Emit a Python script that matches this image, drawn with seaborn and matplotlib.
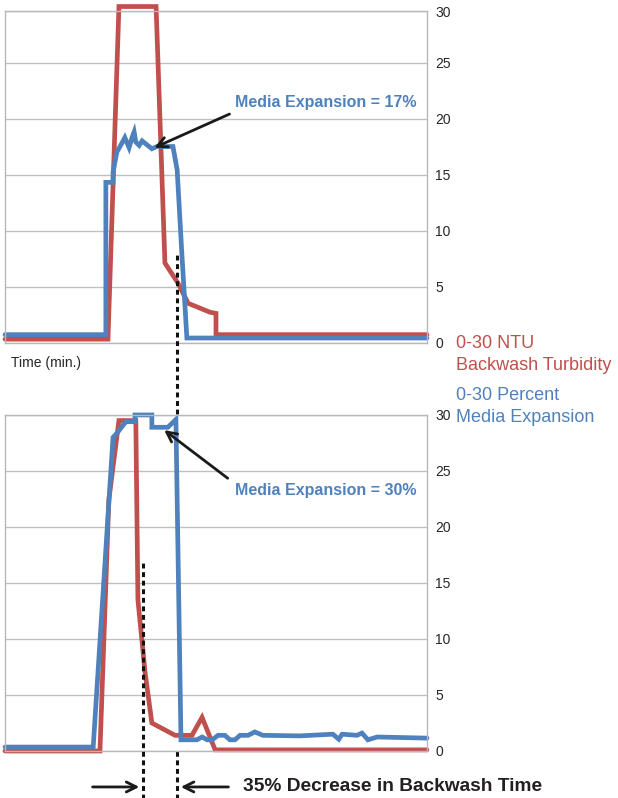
import matplotlib
matplotlib.use("Agg")
import matplotlib.pyplot as plt
import pandas as pd
import seaborn as sns

# top chart (shorter backwash)
top_time_ntu = [0, 24.4, 27.0, 35.8, 37.9, 41.0, 43.4, 48.6, 50.0, 50.0, 100]
top_ntu = [0.3, 0.3, 30.0, 30.0, 7.1, 5.3, 3.5, 2.7, 2.6, 0.7, 0.7]
top_time_exp = [0, 23.9, 23.9, 25.6, 25.6, 26.5, 27.7, 28.4, 29.4, 30.1, 30.6, 31.0,
                31.8, 32.5, 34.8, 36.0, 39.8, 40.8, 41.9, 43.1, 100]
top_exp = [0.7, 0.7, 14.3, 14.3, 15.2, 17.0, 17.8, 18.3, 17.4, 18.3, 18.8, 17.9,
           17.6, 18.0, 17.3, 17.5, 17.5, 15.4, 8.0, 0.4, 0.4]

# bottom chart
bot_time_ntu = [0, 22.5, 24.6, 27.0, 29.6, 31.0, 31.5, 33.2, 34.8, 40.3, 44.3,
                46.7, 49.8, 100]
bot_ntu = [0.0, 0.0, 22.4, 29.5, 29.5, 29.5, 13.5, 7.0, 2.5, 1.4, 1.4, 3.0, 0.1, 0.1]
bot_time_exp = [0, 20.9, 25.6, 26.8, 28.0, 28.7, 30.8, 30.8, 34.8, 34.8, 38.6, 40.5,
                41.7, 45.5, 46.7, 47.9, 49.1, 50.5, 52.1, 53.3, 54.5, 55.7, 57.6,
                59.2, 61.1, 69.9, 77.7, 79.1, 79.9, 83.4, 84.6, 86.0, 88.2, 100]
bot_exp = [0.35, 0.35, 28.0, 28.5, 29.1, 29.4, 29.4, 30.0, 30.0, 28.9, 28.9, 29.6,
           1.0, 1.0, 1.25, 1.0, 1.0, 1.4, 1.4, 1.0, 1.0, 1.4, 1.4,
           1.7, 1.4, 1.35, 1.5, 1.05, 1.5, 1.4, 1.6, 1.0, 1.25, 1.15]

ytick_vals = [0, 5, 10, 15, 20, 25, 30]
RED = "#C0504D"
BLUE = "#4F81BD"

sns.set_theme(style="white")
plt.rcParams["font.family"] = ["Liberation Sans", "DejaVu Sans"]

fig = plt.figure(figsize=(6.18, 7.98), dpi=100)
ax1 = fig.add_axes([0.0081, 0.5708, 0.6828, 0.4154])
ax2 = fig.add_axes([0.0081, 0.0589, 0.6828, 0.4211])


def draw(ax, t_ntu, ntu, t_exp, exp, ytop):
    d1 = pd.DataFrame({"t": t_ntu, "v": ntu})
    d2 = pd.DataFrame({"t": t_exp, "v": exp})
    sns.lineplot(data=d1, x="t", y="v", sort=False, estimator=None, color=RED, lw=3.4, ax=ax)
    sns.lineplot(data=d2, x="t", y="v", sort=False, estimator=None, color=BLUE, lw=3.4, ax=ax)
    for ln in ax.lines:
        ln.set_clip_on(False)
        ln.set_solid_joinstyle("miter")
    ax.set_xlim(0, 100)
    ax.set_ylim(0, ytop)
    ticks = [v if v <= ytop else ytop for v in ytick_vals]
    ax.set_yticks(ticks)
    ax.set_yticklabels([str(v) for v in ytick_vals])
    ax.set_xticks([])
    ax.set_xlabel("")
    ax.set_ylabel("")
    ax.yaxis.tick_right()
    ax.tick_params(axis="y", length=0, pad=6, labelsize=10, labelcolor="#262626")
    ax.grid(axis="y", color="#c0c0c0", lw=1)
    ax.set_axisbelow(True)
    for s in ax.spines.values():
        s.set_color("#b8b8b8")
        s.set_linewidth(1)


draw(ax1, top_time_ntu, top_ntu, top_time_exp, top_exp, 29.6)
draw(ax2, bot_time_ntu, bot_ntu, bot_time_exp, bot_exp, 30)

arrow = dict(arrowstyle="->", color="#1a1a1a", lw=2, mutation_scale=18)

# annotations
ax1.annotate("", xy=(34.8, 17.3), xytext=(53.8, 20.5), arrowprops=arrow)
ax1.text(54.5, 21.4, "Media Expansion = 17%", color=BLUE, fontsize=11.5,
         fontweight="bold", ha="left", va="center")
ax2.annotate("", xy=(37.2, 28.8), xytext=(53.3, 24.2), arrowprops=arrow)
ax2.text(54.5, 23.3, "Media Expansion = 30%", color=BLUE, fontsize=11.5,
         fontweight="bold", ha="left", va="center")

ax1.text(0.014, -0.062, "Time (min.)", transform=ax1.transAxes, fontsize=10,
         color="#262626", ha="left", va="center")

# dashed guide lines
dash = (0, (1.6, 1.2))
ax1.axvline(40.8, ymin=-1.38, ymax=8.0 / 29.6, color="#111111", lw=2.2,
            ls=dash, clip_on=False, zorder=5)
ax2.axvline(32.7, ymin=-0.145, ymax=16.8 / 30, color="#111111", lw=2.2,
            ls=dash, clip_on=False, zorder=5)

trans = ("data", "axes fraction")
ax2.annotate("", xy=(32.5, -0.107), xytext=(20.1, -0.107), xycoords=trans, textcoords=trans,
             arrowprops=arrow)
ax2.annotate("", xy=(41.0, -0.107), xytext=(53.6, -0.107), xycoords=trans, textcoords=trans,
             arrowprops=arrow)
ax2.annotate("35% Decrease in Backwash Time", xy=(56.4, -0.107), xycoords=trans,
             fontsize=13.8, fontweight="bold", color="#231f20", ha="left", va="center",
             annotation_clip=False)

# series labels
fig.text(0.738, 1 - 344 / 798, "0-30 NTU", color=RED, fontsize=13, va="center")
fig.text(0.738, 1 - 365 / 798, "Backwash Turbidity", color=RED, fontsize=13, va="center")
fig.text(0.738, 1 - 396 / 798, "0-30 Percent", color=BLUE, fontsize=13, va="center")
fig.text(0.738, 1 - 417 / 798, "Media Expansion", color=BLUE, fontsize=13, va="center")

fig.savefig("out.png", dpi=100)
